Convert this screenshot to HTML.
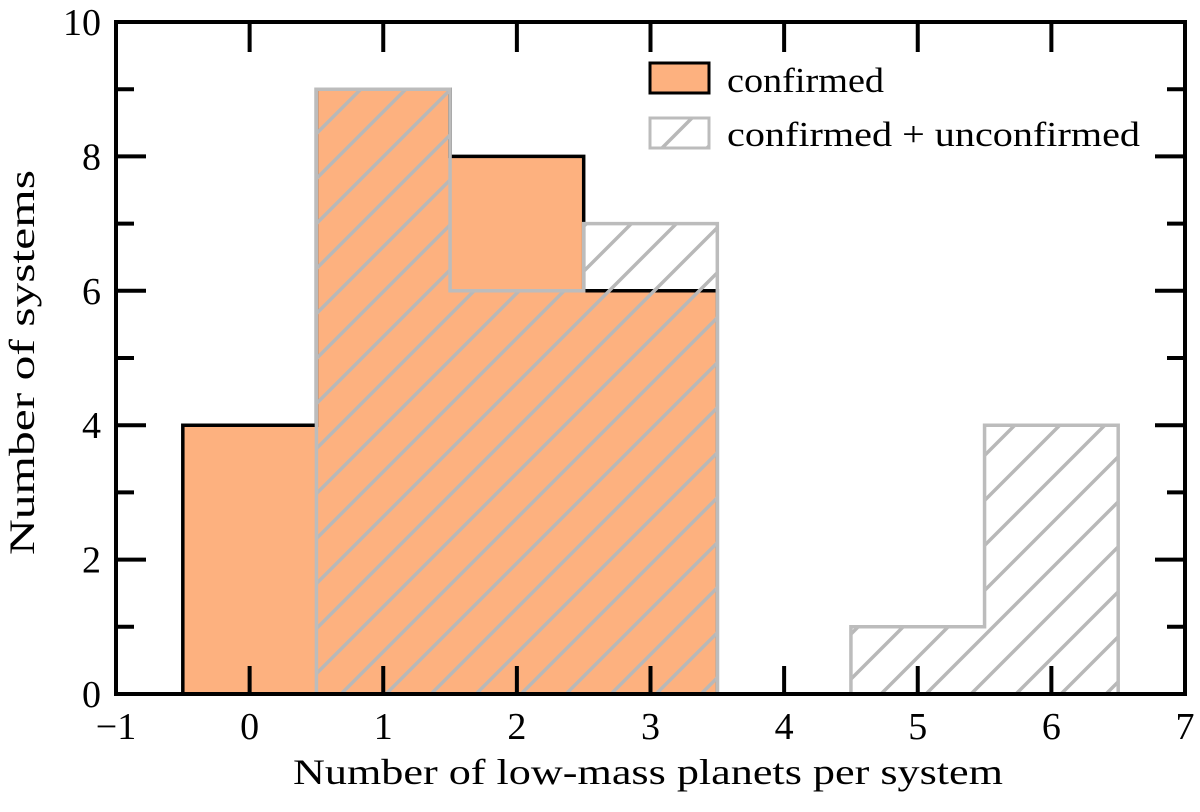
<!DOCTYPE html>
<html><head><meta charset="utf-8"><style>
body{margin:0;background:#fff}
svg text{font-family:"Liberation Serif",serif;fill:#000}
</style></head><body>
<svg id="chart" width="1200" height="807" xmlns="http://www.w3.org/2000/svg">
<defs>
<pattern id="hatch" patternUnits="userSpaceOnUse" width="45" height="45">
<path d="M-10,55 L55,-10 M-45,45 L45,-45 M0,90 L90,0" stroke="#b8b8b8" stroke-width="3.5"/>
</pattern>
</defs>
<g id="plot"></g>
</svg>
<script>
const bins=[0,1,2,3,4,5,6];
const confirmed=[4,9,8,6,0,0,0];
const combined=[0,9,6,7,0,1,4];
const xTicks=[-1,0,1,2,3,4,5,6,7];
const yTicks=[0,2,4,6,8,10];
const yMinor=[1,3,5,7,9];
const L=116,R=1185,T=22,B=694;
const xs=v=>L+(v+1)/8*(R-L);
const ys=v=>B-v/10*(B-T);
const NS='http://www.w3.org/2000/svg';
const g=document.getElementById('plot');
function mk(tag,attrs,parent){const e=document.createElementNS(NS,tag);for(const k in attrs)e.setAttribute(k,attrs[k]);(parent||g).appendChild(e);return e;}
function stepPath(vals){
  let d='';let started=false;
  for(let i=0;i<bins.length;i++){
    const x0=xs(bins[i]-0.5),x1=xs(bins[i]+0.5);
    if(!started){if(vals[i]===0)continue;d+='M'+x0+','+ys(0)+' L'+x0+','+ys(vals[i]);started=true;}
    else d+=' L'+x0+','+ys(vals[i]);
    d+=' L'+x1+','+ys(vals[i]);
  }
  let last=bins.length-1;while(vals[last]===0)last--;
  d+=' L'+xs(bins[last]+0.5)+','+ys(0);
  return d;
}
let p=mk('path',{d:stepPath(confirmed)+' Z',fill:'#fdb17f',stroke:'none'});

p=mk('path',{d:stepPath(confirmed),fill:'none',stroke:'#000','stroke-width':3.5});

p=mk('path',{d:stepPath(combined)+' Z',fill:'url(#hatch)',stroke:'none'});

p=mk('path',{d:stepPath(combined),fill:'none',stroke:'#bcbcbc','stroke-width':3.5});

p=mk('rect',{x:L,y:T,width:R-L,height:B-T,fill:'none',stroke:'#000','stroke-width':4});

xTicks.forEach(v=>{
  const x=xs(v);
  mk('line',{x1:x,x2:x,y1:B,y2:B-28,stroke:'#000','stroke-width':4});
  mk('line',{x1:x,x2:x,y1:T,y2:T+30,stroke:'#000','stroke-width':4});
  const t=mk('text',{x:x,y:739,'font-size':38,'text-anchor':'middle'});
  t.textContent=v<0?'\u2212'+(-v):String(v);
  
  
});
yTicks.forEach(v=>{
  const y=ys(v);
  mk('line',{x1:L,x2:L+30,y1:y,y2:y,stroke:'#000','stroke-width':4});
  mk('line',{x1:R,x2:R-30,y1:y,y2:y,stroke:'#000','stroke-width':4});
  const t=mk('text',{x:101,y:y+13,'font-size':38,'text-anchor':'end'});
  t.textContent=String(v);
  
  
});
yMinor.forEach(v=>{
  const y=ys(v);
  mk('line',{x1:L,x2:L+18,y1:y,y2:y,stroke:'#000','stroke-width':4});
  mk('line',{x1:R,x2:R-18,y1:y,y2:y,stroke:'#000','stroke-width':4});
});
let t=mk('text',{x:293,y:784,'font-size':36,textLength:710,lengthAdjust:'spacingAndGlyphs'});t.textContent='Number of low-mass planets per system';

t=mk('text',{x:-555,y:34,'font-size':36,transform:'rotate(-90)',textLength:385,lengthAdjust:'spacingAndGlyphs'});t.textContent='Number of systems';

p=mk('rect',{x:650,y:63,width:59,height:30,fill:'#fdb17f',stroke:'#000','stroke-width':3});

t=mk('text',{x:727,y:92,'font-size':35,textLength:157,lengthAdjust:'spacingAndGlyphs'});t.textContent='confirmed';

p=mk('rect',{x:650,y:118,width:59,height:30,fill:'url(#hatch)',stroke:'#bcbcbc','stroke-width':3});

t=mk('text',{x:727,y:146,'font-size':35,textLength:413,lengthAdjust:'spacingAndGlyphs'});t.textContent='confirmed + unconfirmed';

</script>
</body></html>
